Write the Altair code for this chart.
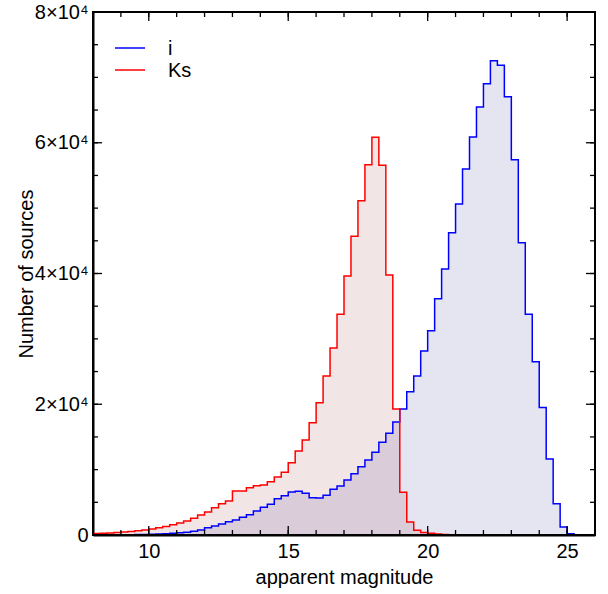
import altair as alt
import pandas as pd

# Histogram bins: left edge of first bin and bin width (mag)
bin_start = 8.0
bin_width = 0.25

# Counts per bin (bins from 8.0 to 25.75)
i_counts = [
    10, 15, 20, 25, 35, 45, 60, 80,
    110, 150, 200, 260, 340, 430, 560, 760,
    1120, 1380, 1680, 2040, 2290, 2700, 3110, 3670,
    4230, 4690, 5560, 6020, 6580, 6680, 6370, 5710,
    5660, 6070, 6990, 7500, 8410, 9380, 10450, 11470,
    12650, 14180, 15550, 17290, 19280, 21930, 24320, 28150,
    31250, 36150, 40690, 46250, 50630, 55980, 60880, 65470,
    69040, 72550, 71840, 67050, 57410, 44720, 33750, 26510,
    19500, 11630, 4790, 1220, 200, 50, 15, 0,
]
ks_counts = [
    220, 270, 320, 380, 460, 540, 640, 760,
    920, 1100, 1300, 1550, 1830, 2150, 2550, 3050,
    3530, 4180, 4790, 5200, 6730, 6730, 7240, 7550,
    7650, 8160, 8870, 9590, 11060, 12850, 14530, 17180,
    20240, 24320, 28600, 33760, 39620, 45690, 51140, 56640,
    60830, 56550, 39770, 19280, 6530, 2000, 720, 400,
    250, 150, 80, 40, 20, 10, 5, 0,
    0, 0, 0, 0, 0, 0, 0, 0,
    0, 0, 0, 0, 0, 0, 0, 0,
]
series_names = ["i", "Ks"]
line_colors = ["#0000ff", "#ff0000"]
fill_colors = ["#00007f", "#7f0000"]

x_major = [10, 15, 20, 25]
x_minor = list(range(8, 27))
y_major = [0, 20000, 40000, 60000, 80000]
y_minor = list(range(0, 80001, 5000))
x_limits = [8, 26]
y_limits = [0, 80000]

W, H = 502, 523
FONT = "Liberation Sans"
FS = 20

rows = []
for name, counts in zip(series_names, [i_counts, ks_counts]):
    for k, c in enumerate(counts):
        rows.append({"series": name, "mag": bin_start + k * bin_width, "count": c})
    rows.append({"series": name, "mag": bin_start + len(counts) * bin_width, "count": counts[-1]})
df = pd.DataFrame(rows)

xscale = alt.Scale(domain=x_limits, nice=False, zero=False)
yscale = alt.Scale(domain=y_limits, nice=False)
xaxis = alt.Axis(values=x_major, ticks=False, domain=True, domainColor="#000000",
                 domainWidth=2, grid=False,
                 title="apparent magnitude", labelFontSize=FS, titleFontSize=FS,
                 labelFont=FONT, titleFont=FONT, labelColor="black", titleColor="black",
                 titleFontWeight="normal", labelPadding=6, titlePadding=6)
yaxis = alt.Axis(values=y_major, ticks=False, domain=True, domainColor="#000000",
                 domainWidth=2, grid=False,
                 title="Number of sources", labelFontSize=FS, titleFontSize=FS,
                 labelFont=FONT, titleFont=FONT, labelColor="black", titleColor="black",
                 titleFontWeight="normal", labelPadding=5, titlePadding=-2,
                 labelExpr="datum.value == 0 ? '0' : (datum.value / 10000) + '×10⁴'")

base = alt.Chart(df)


def area_for(name, color):
    return base.transform_filter(alt.datum.series == name).mark_area(
        interpolate="step-after", opacity=0.1, color=color, clip=True).encode(
        x=alt.X("mag:Q", scale=xscale, axis=xaxis),
        y=alt.Y("count:Q", scale=yscale, axis=yaxis, stack=None),
    )


def line_for(name, color):
    return base.transform_filter(alt.datum.series == name).mark_line(
        interpolate="step-after", strokeWidth=1.5, color=color, clip=True).encode(
        x=alt.X("mag:Q", scale=xscale, axis=xaxis),
        y=alt.Y("count:Q", scale=yscale, axis=yaxis),
    )


areas = [area_for(n, c) for n, c in zip(series_names, fill_colors)]
lines = [line_for(n, c) for n, c in zip(series_names, line_colors)]

# hand-drawn legend (top left, inside the frame)
legend_layers = []
for k, (name, color) in enumerate(zip(series_names, line_colors)):
    yy = 36 + 22 * k
    legend_layers.append(
        alt.Chart(pd.DataFrame({"s": [name]})).mark_rule(color=color, strokeWidth=1.5).encode(
            x=alt.value(22), x2=alt.value(52), y=alt.value(yy)))
    legend_layers.append(
        alt.Chart(pd.DataFrame({"s": [name]})).mark_text(
            align="left", baseline="middle", font=FONT, fontSize=FS, color="black").encode(
            x=alt.value(75), y=alt.value(yy + 1), text="s:N"))


def xrules(vals, y0, y1, width):
    return alt.Chart(pd.DataFrame({"v": vals})).mark_rule(color="#000000", strokeWidth=width).encode(
        x=alt.X("v:Q", scale=xscale, axis=xaxis), y=alt.value(y0), y2=alt.value(y1))


def yrules(vals, x0, x1, width):
    return alt.Chart(pd.DataFrame({"v": vals})).mark_rule(color="#000000", strokeWidth=width).encode(
        y=alt.Y("v:Q", scale=yscale, axis=yaxis), x=alt.value(x0), x2=alt.value(x1))


tick_layers = [
    xrules(x_minor, H, H - 5, 1.3), xrules(x_minor, 0, 5, 1.3),
    xrules(x_major, H, H - 9, 1.3), xrules(x_major, 0, 9, 1.3),
    yrules(y_minor, 0, 5, 1.3), yrules(y_minor, W, W - 5, 1.3),
    yrules(y_major, 0, 9, 1.3), yrules(y_major, W, W - 9, 1.3),
]
frame = [xrules(x_limits, 0, H, 2), yrules(y_limits, 0, W, 2)]

chart = alt.layer(*areas, *lines, *tick_layers, *frame, *legend_layers).properties(
    width=W, height=H,
    padding={"left": 93, "top": 12, "right": 13, "bottom": 59},
    autosize=alt.AutoSizeParams(type="none"),
    background="white",
).configure_view(stroke="#000000", strokeWidth=2)

chart.save("out.html", embed_options={"renderer": "svg", "actions": False})
